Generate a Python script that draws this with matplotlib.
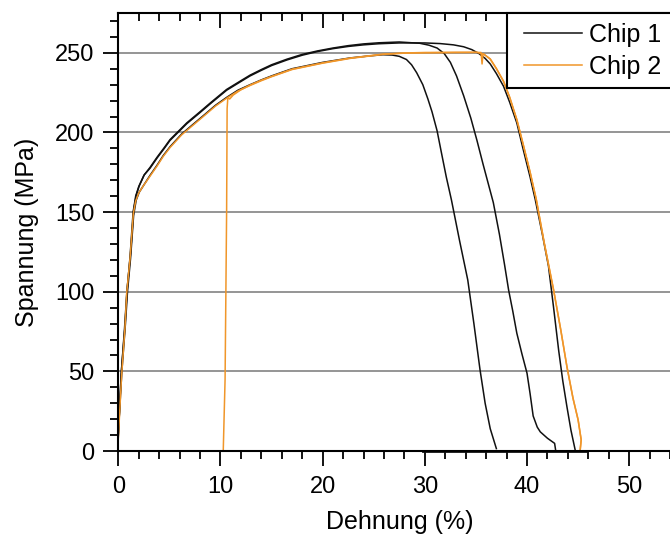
import matplotlib.pyplot as plt
from matplotlib.patches import Rectangle
from matplotlib.ticker import MultipleLocator

plt.rcParams['font.family'] = ['Liberation Sans', 'DejaVu Sans']

# Chip 1 (black) - three specimens
c1a_x = [0, 0.3, 0.65, 0.85, 1.15, 1.45, 1.7, 2.0, 2.5, 3.1, 3.8, 4.5, 5.06, 6.0, 6.7, 8.0,
         9.0, 10.6, 12.0, 12.9, 14.0, 15.0, 16.5, 18.0, 19.5, 21.0, 22.5, 24.0, 25.5, 27.5,
         29.5, 30.4, 31.2, 31.9, 32.5, 33.1, 33.8, 34.5, 35.1, 35.7, 36.2, 36.7, 37.3, 37.8,
         38.2, 38.6, 39.0, 39.5, 40.0, 40.3, 40.6, 41.0, 41.3, 42.0, 42.7, 42.8]
c1a_y = [10, 50, 78, 100, 122, 150, 160, 166, 173, 178, 184.5, 190.5, 195.5, 201.5, 206,
         213, 218.5, 227, 232.5, 236, 239.5, 242.5, 246, 249, 251.2, 253, 254.5, 255.6,
         256.3, 256.8, 256, 254.8, 253, 249.5, 244, 235.5, 223, 209, 195, 180, 168, 156,
         136, 117, 101, 88, 74, 61, 48.8, 36, 22, 15, 12, 8, 4.8, 0.5]
c1b_x = [0, 0.28, 0.6, 0.85, 1.2, 1.5, 1.75, 2.05, 2.55, 3.1, 3.8, 4.5, 5.06, 6.0, 6.7, 8.0,
         9.0, 10.6, 12.0, 12.9, 14.0, 15.0, 16.5, 18.0, 19.5, 21.0, 22.5, 24.0, 25.5, 27.5,
         30.0, 31.5, 32.8, 33.8, 34.6, 35.3, 35.9, 36.4, 37.0, 37.7, 38.3, 39.0, 39.6, 40.3,
         40.8, 41.5, 42.1, 42.6, 43.1, 43.5, 43.9, 44.3, 44.7]
c1b_y = [9, 48, 76, 101, 124, 151, 160.5, 166.5, 173.5, 177.5, 184, 190, 195, 201, 205.5,
         212.5, 218, 226.5, 232, 235.5, 239, 242, 245.5, 248.5, 250.8, 252.6, 254, 255,
         255.7, 256.2, 256.2, 255.8, 255, 253.8, 252, 249.5, 246.5, 243, 237, 229, 219, 206,
         190, 172, 158, 136, 116, 90, 63, 44, 28, 13, 1]
c1c_x = [0, 0.35, 0.7, 0.9, 1.2, 1.5, 1.75, 2.05, 2.5, 3.1, 3.8, 4.4, 5.06, 6.2, 7.3, 8.5,
         9.5, 10.6, 11.7, 12.9, 14.0, 15.0, 17.0, 20.0, 22.7, 24.5, 25.9, 26.8, 27.5, 28.2,
         28.7, 29.2, 29.8, 30.3, 30.7, 31.2, 31.6, 32.1, 32.6, 33.4, 34.2, 34.8, 35.4, 35.9,
         36.4, 37.0]
c1c_y = [11, 50, 80, 100, 121, 148, 157.5, 162.5, 167, 173, 179.5, 185.5, 191, 199, 205,
         211.5, 217, 222, 226.5, 230, 233, 235.5, 240, 244, 246.8, 248, 248.8, 248.6, 247.8,
         245.8, 242.5, 237.5, 230, 221, 213, 201, 188, 172, 157.7, 132, 107.4, 80, 51, 30,
         14, 1.5]
# data tail recorded at zero stress after fracture
c1_tail_x = [29.8, 45.8]
c1_tail_y = [0, 0]

# Chip 2 (orange) - two specimens
c2a_x = [0, 0.33, 0.65, 0.82, 1.15, 1.47, 1.7, 2.0, 2.45, 3.1, 3.8, 4.4, 5.06, 6.2, 7.3,
         8.5, 9.5, 10.6, 11.7, 12.9, 14.0, 15.0, 17.0, 20.0, 22.7, 25.9, 28.0, 30.0, 33.0,
         35.1, 35.8, 36.4, 37.0, 37.7, 38.3, 39.0, 39.6, 40.3, 40.9, 41.7, 42.6, 43.3, 43.9,
         44.5, 45.0, 45.3, 45.2]
c2a_y = [8, 48, 77, 99, 121, 149, 157, 162, 166.5, 172.5, 179, 185, 190.5, 198.5, 204.5,
         211, 216.5, 221.5, 226, 229.5, 232.5, 235, 239.5, 243.5, 246.5, 249, 249.8, 250,
         250.2, 250.3, 249, 246, 240, 232, 222, 208, 193, 175, 158, 130, 101, 76, 53, 33,
         19.5, 7, 0.5]
c2b_x = [10.27, 10.45, 10.6, 10.65, 10.72, 10.9, 11.25, 12.0, 12.9, 14.0, 15.0, 17.0, 20.0,
         22.7, 25.9, 28.0, 30.0, 33.0, 35.0, 35.5, 35.6, 35.7, 36.4, 37.0, 37.7, 38.3, 39.0,
         39.6, 40.3, 40.9, 41.7, 42.6, 43.3, 43.9, 44.5, 45.0, 45.3, 45.2]
c2b_y = [0, 45, 150, 215, 222, 221, 223.5, 226.8, 229.8, 232.8, 235.2, 239.7, 243.7,
         246.7, 249.2, 249.9, 250.2, 250.3, 250.3, 250.2, 243, 249.5, 246.2, 240.2, 232.2,
         222.2, 208.2, 193.2, 175.2, 158.2, 130.2, 101.2, 76.2, 53.2, 33.2, 19.6, 7, 0.5]

black = '#111111'
orange = '#f0962a'

fig = plt.figure(figsize=(6.7, 5.38), dpi=100)
ax_w = 562
ax = fig.add_axes([118.3 / 670, 87 / 538, ax_w / 670, 438 / 538])

lw = 1.1
ax.plot(c1a_x, c1a_y, color=black, lw=lw, label='Chip 1')
ax.plot(c1b_x, c1b_y, color=black, lw=lw)
ax.plot(c1c_x, c1c_y, color=black, lw=lw)
ax.plot(c1_tail_x, c1_tail_y, color=black, lw=2.0, clip_on=False)
ax.plot(c2a_x, c2a_y, color=orange, lw=lw, label='Chip 2')
ax.plot(c2b_x, c2b_y, color=orange, lw=lw)

ax.set_xlim(0, 55)
ax.set_ylim(0, 275)
ax.xaxis.set_major_locator(MultipleLocator(10))
ax.xaxis.set_minor_locator(MultipleLocator(2))
ax.yaxis.set_major_locator(MultipleLocator(50))
ax.yaxis.set_minor_locator(MultipleLocator(10))
ax.grid(axis='y', which='major', color='#8c8c8c', lw=1.3)
ax.set_axisbelow(True)

for s in ax.spines.values():
    s.set_linewidth(1.5)
ax.tick_params(which='both', top=True, right=True, width=1.3, labelsize=17)
ax.tick_params(which='major', length=11)
ax.tick_params(which='minor', length=6)
ax.tick_params(axis='x', which='both', direction='out', pad=7)
ax.tick_params(axis='y', which='both', direction='out', pad=6)
# top and right ticks point inward
for t in ax.xaxis.get_ticklines(minor=False)[1::2] + ax.xaxis.get_ticklines(minor=True)[1::2]:
    t.set_marker(3)
for t in ax.yaxis.get_ticklines(minor=False)[1::2] + ax.yaxis.get_ticklines(minor=True)[1::2]:
    t.set_marker(1)

ax.set_xlabel('Dehnung (%)', fontsize=18, labelpad=9)
ax.set_ylabel('Spannung (MPa)', fontsize=18, labelpad=12)

# legend box drawn separately so it can run off the right edge like the original
box_left = (507 - 118.3) / ax_w
box_bottom = 1 - 75 / 438
ax.add_patch(Rectangle((box_left, box_bottom), 1.1 - box_left, 1 - box_bottom,
                       transform=ax.transAxes, facecolor='white', edgecolor='black',
                       lw=1.5, clip_on=False, zorder=4))
leg = ax.legend(loc='upper left', bbox_to_anchor=((514 - 118.3) / ax_w, 1), borderaxespad=0,
                fontsize=18, frameon=False, handlelength=2.3, handletextpad=0.3,
                labelspacing=0.32, borderpad=0.4)
leg.set_zorder(5)

fig.savefig('out.png', dpi=100)
